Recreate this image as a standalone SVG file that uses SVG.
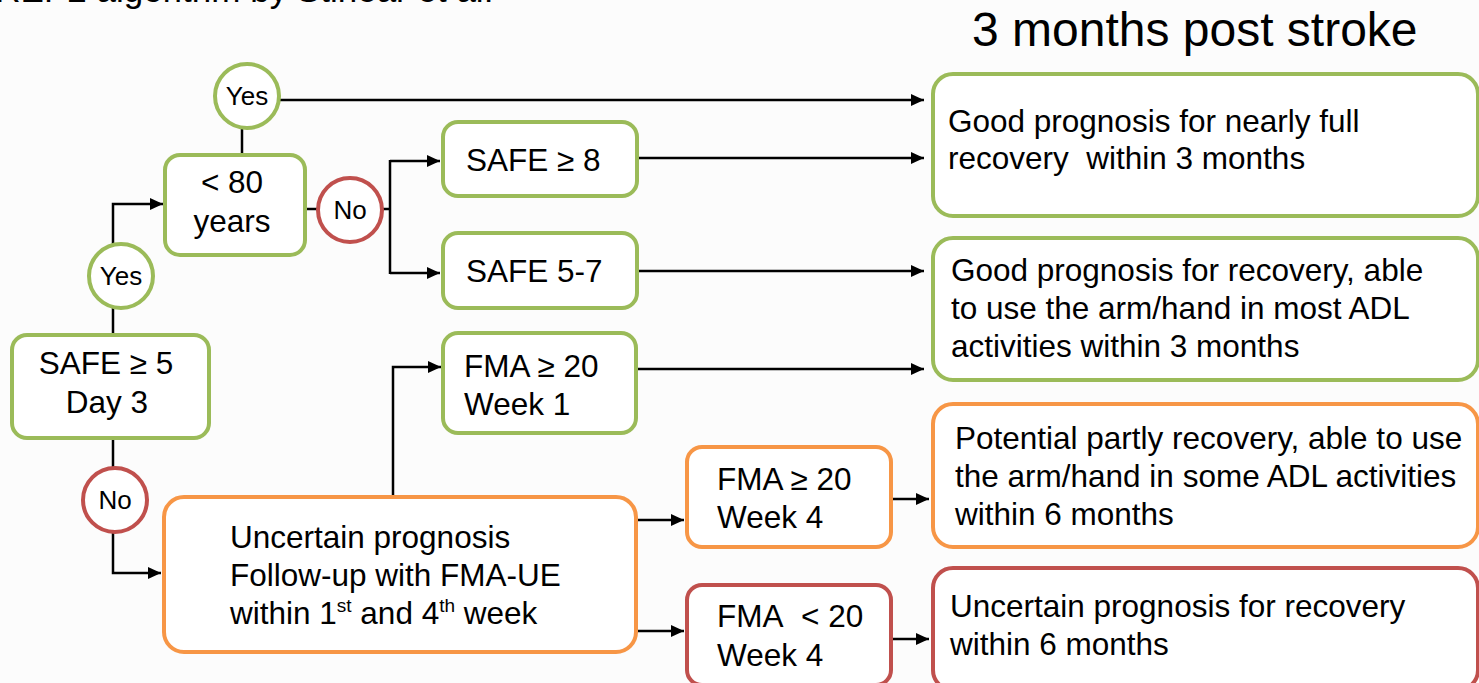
<svg xmlns="http://www.w3.org/2000/svg" width="1479" height="683" viewBox="0 0 1479 683">
<defs>
<style>
.t{font-family:"Liberation Sans",Arial,sans-serif;font-size:31.5px;fill:#000}
.c{font-family:"Liberation Sans",Arial,sans-serif;font-size:26px;fill:#000;text-anchor:middle}
.g{fill:#fff;stroke:#9bbb59;stroke-width:4}
.o{fill:#fff;stroke:#f79646;stroke-width:4}
.r{fill:#fff;stroke:#c0504d;stroke-width:4}
.ln{fill:none;stroke:#000;stroke-width:2.5}
.sup{font-size:19px}
</style>
<marker id="ah" markerUnits="userSpaceOnUse" markerWidth="13" markerHeight="12" refX="13" refY="6" orient="auto">
<path d="M0,0 L13,6 L0,12 z" fill="#000"/>
</marker>
</defs>
<rect x="0" y="0" width="1479" height="683" fill="#fcfcfc"/>
<text class="t" x="-28" y="2" style="font-size:35px">PREP2 algorithm by Stinear et al.</text>
<text class="t" x="972" y="46" style="font-size:48px">3 months post stroke</text>

<g id="connectors">
<path class="ln" d="M280,100 H924" marker-end="url(#ah)"/>
<path class="ln" d="M242,128 V155"/>
<path class="ln" d="M113,335 V308"/>
<path class="ln" d="M113,244 V204 H163" marker-end="url(#ah)"/>
<path class="ln" d="M305,209 H318"/>
<path class="ln" d="M383,209 H390 M390,160 V274"/>
<path class="ln" d="M390,161 H440" marker-end="url(#ah)"/>
<path class="ln" d="M390,273 H440" marker-end="url(#ah)"/>
<path class="ln" d="M637,158 H924" marker-end="url(#ah)"/>
<path class="ln" d="M637,271 H924" marker-end="url(#ah)"/>
<path class="ln" d="M637,369 H924" marker-end="url(#ah)"/>
<path class="ln" d="M113,438 V468"/>
<path class="ln" d="M113,532 V573 H161" marker-end="url(#ah)"/>
<path class="ln" d="M393,497 V367 H441" marker-end="url(#ah)"/>
<path class="ln" d="M636,520 H684" marker-end="url(#ah)"/>
<path class="ln" d="M636,631 H684" marker-end="url(#ah)"/>
<path class="ln" d="M892,499 H929" marker-end="url(#ah)"/>
<path class="ln" d="M892,639 H929" marker-end="url(#ah)"/>
</g>

<g id="yes-top"><circle class="g" cx="247" cy="96" r="32"/><text class="c" x="247" y="105">Yes</text></g>
<g id="age"><rect class="g" x="165" y="155" width="140" height="100" rx="15"/><text class="t" x="232" y="193" text-anchor="middle">&lt; 80</text><text class="t" x="232" y="232" text-anchor="middle">years</text></g>
<g id="no-age"><circle class="r" cx="350" cy="210" r="32"/><text class="c" x="350" y="219">No</text></g>
<g id="yes-safe"><circle class="g" cx="121" cy="276" r="32"/><text class="c" x="121" y="285">Yes</text></g>
<g id="safe5"><rect class="g" x="12" y="335" width="197" height="103" rx="15"/><text class="t" x="106" y="374" text-anchor="middle">SAFE ≥ 5</text><text class="t" x="107" y="413" text-anchor="middle">Day 3</text></g>
<g id="no-safe"><circle class="r" cx="115" cy="500" r="32"/><text class="c" x="115" y="509">No</text></g>
<g id="safe8"><rect class="g" x="443" y="122" width="194" height="74" rx="15"/><text class="t" x="466" y="171">SAFE ≥ 8</text></g>
<g id="safe57"><rect class="g" x="443" y="233" width="194" height="75" rx="15"/><text class="t" x="466" y="282">SAFE 5-7</text></g>
<g id="fma-w1"><rect class="g" x="443" y="333" width="193" height="100" rx="15"/><text class="t" x="464" y="377">FMA ≥ 20</text><text class="t" x="464" y="415">Week 1</text></g>
<g id="uncertain"><rect class="o" x="164" y="497" width="472" height="155" rx="20"/><text class="t" x="230" y="548">Uncertain prognosis</text><text class="t" x="230" y="586">Follow-up with FMA-UE</text><text class="t" x="230" y="624">within 1<tspan class="sup" dy="-12">st</tspan><tspan dy="12"> and 4</tspan><tspan class="sup" dy="-12">th</tspan><tspan dy="12"> week</tspan></text></g>
<g id="fma-w4-hi"><rect class="o" x="687" y="447" width="204" height="100" rx="15"/><text class="t" x="717" y="490">FMA ≥ 20</text><text class="t" x="717" y="528">Week 4</text></g>
<g id="fma-w4-lo"><rect class="r" x="687" y="585" width="204" height="100" rx="15"/><text class="t" x="717" y="627">FMA&#160; &lt; 20</text><text class="t" x="717" y="666">Week 4</text></g>
<g id="out-full"><rect class="g" x="933" y="74" width="545" height="142" rx="20"/><text class="t" x="948" y="132">Good prognosis for nearly full</text><text class="t" x="948" y="169">recovery&#160; within 3 months</text></g>
<g id="out-good"><rect class="g" x="933" y="238" width="545" height="142" rx="20"/><text class="t" x="951" y="281">Good prognosis for recovery, able</text><text class="t" x="951" y="319">to use the arm/hand in most ADL</text><text class="t" x="951" y="357">activities within 3 months</text></g>
<g id="out-partly"><rect class="o" x="933" y="404" width="545" height="143" rx="20"/><text class="t" x="955" y="449">Potential partly recovery, able to use</text><text class="t" x="955" y="487">the arm/hand in some ADL activities</text><text class="t" x="955" y="525">within 6 months</text></g>
<g id="out-uncertain"><rect class="r" x="933" y="568" width="545" height="122" rx="20"/><text class="t" x="950" y="617">Uncertain prognosis for recovery</text><text class="t" x="950" y="655">within 6 months</text></g>
</svg>
